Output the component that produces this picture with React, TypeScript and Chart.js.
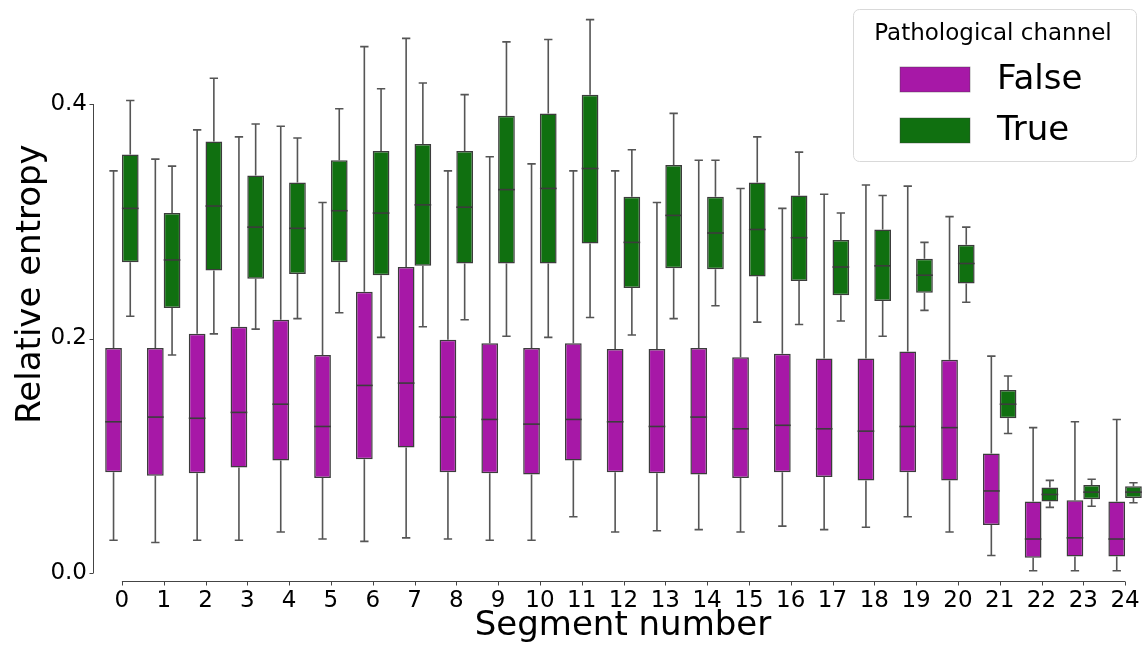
import React, { useEffect, useRef } from "react";
import { Chart, registerables } from "chart.js";

Chart.register(...registerables);

// ---------- data ----------
const segments = ["0","1","2","3","4","5","6","7","8","9","10","11","12","13","14","15","16","17","18","19","20","21","22","23","24"];
const seriesLabels = ["False", "True"];
const yTicks = [0, 0.2, 0.4];

const falseMin = [0.028,0.026,0.028,0.028,0.035,0.029,0.027,0.030,0.029,0.028,0.028,0.048,0.035,0.036,0.037,0.035,0.040,0.037,0.039,0.048,0.035,0.015,0.002,0.002,0.002];
const falseQ1 = [0.086,0.083,0.085,0.090,0.096,0.081,0.097,0.107,0.086,0.085,0.084,0.096,0.086,0.085,0.084,0.081,0.086,0.082,0.079,0.086,0.079,0.041,0.013,0.014,0.014];
const falseMedian = [0.129,0.133,0.132,0.137,0.144,0.125,0.160,0.162,0.133,0.131,0.127,0.131,0.129,0.125,0.133,0.123,0.126,0.123,0.121,0.125,0.124,0.070,0.029,0.030,0.029];
const falseQ3 = [0.192,0.192,0.204,0.210,0.216,0.186,0.240,0.261,0.199,0.196,0.192,0.196,0.191,0.191,0.192,0.184,0.187,0.183,0.183,0.189,0.182,0.102,0.061,0.062,0.061];
const falseMax = [0.343,0.353,0.378,0.372,0.381,0.316,0.449,0.456,0.343,0.355,0.349,0.343,0.343,0.316,0.352,0.328,0.311,0.323,0.331,0.330,0.304,0.185,0.124,0.129,0.131];

const trueMin = [0.219,0.186,0.204,0.208,0.217,0.222,0.201,0.210,0.216,0.202,0.201,0.218,0.203,0.217,0.228,0.214,0.212,0.215,0.202,0.224,0.231,0.119,0.056,0.057,0.060];
const trueQ1 = [0.265,0.226,0.258,0.251,0.255,0.265,0.254,0.262,0.264,0.264,0.264,0.281,0.243,0.260,0.259,0.253,0.249,0.237,0.232,0.239,0.247,0.132,0.061,0.063,0.064];
const trueMedian = [0.311,0.267,0.313,0.295,0.294,0.309,0.307,0.314,0.312,0.327,0.328,0.345,0.282,0.305,0.290,0.293,0.286,0.261,0.262,0.254,0.264,0.144,0.067,0.069,0.069];
const trueQ3 = [0.357,0.307,0.368,0.339,0.333,0.352,0.360,0.366,0.360,0.390,0.392,0.408,0.321,0.348,0.321,0.333,0.322,0.284,0.293,0.268,0.280,0.156,0.073,0.075,0.074];
const trueMax = [0.403,0.347,0.422,0.383,0.371,0.396,0.413,0.418,0.408,0.453,0.455,0.472,0.361,0.392,0.352,0.372,0.359,0.307,0.322,0.282,0.295,0.168,0.079,0.080,0.077];

// ---------- styles ----------
const FONT = '"DejaVu Sans", "Liberation Sans", sans-serif';
const colors = ["#A718A7", "#107010"];
const edgeColor = "#3c3c3c";
const whiskerColor = "#555555";
const W = 1147;
const H = 648;

const stats = [
  { min: falseMin, q1: falseQ1, med: falseMedian, q3: falseQ3, max: falseMax },
  { min: trueMin, q1: trueQ1, med: trueMedian, q3: trueQ3, max: trueMax },
];

const boxPlugin = {
  id: "boxWhiskers",
  beforeDatasetsDraw(chart: any) {
    const ctx = chart.ctx;
    const ys = chart.scales.y;
    ctx.save();
    ctx.strokeStyle = whiskerColor;
    ctx.lineWidth = 1.6;
    chart.data.datasets.forEach((_ds: any, di: number) => {
      const meta = chart.getDatasetMeta(di);
      const st = stats[di];
      meta.data.forEach((bar: any, i: number) => {
        const { x, width } = bar.getProps(["x", "width"], true);
        const half = width / 4;
        const pMax = ys.getPixelForValue(st.max[i]);
        const pMin = ys.getPixelForValue(st.min[i]);
        const pQ3 = ys.getPixelForValue(st.q3[i]);
        const pQ1 = ys.getPixelForValue(st.q1[i]);
        ctx.beginPath();
        ctx.moveTo(x, pQ3);
        ctx.lineTo(x, pMax);
        ctx.moveTo(x - half, pMax);
        ctx.lineTo(x + half, pMax);
        ctx.moveTo(x, pQ1);
        ctx.lineTo(x, pMin);
        ctx.moveTo(x - half, pMin);
        ctx.lineTo(x + half, pMin);
        ctx.stroke();
      });
    });
    ctx.restore();
  },
  afterDatasetsDraw(chart: any) {
    const ctx = chart.ctx;
    const ys = chart.scales.y;
    ctx.save();
    ctx.strokeStyle = edgeColor;
    ctx.lineWidth = 1.6;
    chart.data.datasets.forEach((_ds: any, di: number) => {
      const meta = chart.getDatasetMeta(di);
      const st = stats[di];
      meta.data.forEach((bar: any, i: number) => {
        const { x, width } = bar.getProps(["x", "width"], true);
        const pMed = ys.getPixelForValue(st.med[i]);
        ctx.beginPath();
        ctx.moveTo(x - width / 2, pMed);
        ctx.lineTo(x + width / 2, pMed);
        ctx.stroke();
      });
    });
    ctx.restore();
  },
};

const decorPlugin = {
  id: "decor",
  afterDraw(chart: any) {
    const ctx = chart.ctx;
    const xs = chart.scales.x;
    const ys = chart.scales.y;
    const area = chart.chartArea;
    ctx.save();
    // spines (offset and trimmed)
    ctx.strokeStyle = "#444444";
    ctx.lineWidth = 1;
    const sx = Math.round(area.left - 8) + 0.5;
    const y0 = ys.getPixelForValue(yTicks[0]);
    const y1 = ys.getPixelForValue(yTicks[yTicks.length - 1]);
    ctx.beginPath();
    ctx.moveTo(sx, y0);
    ctx.lineTo(sx, y1);
    yTicks.forEach((v) => {
      const p = Math.round(ys.getPixelForValue(v)) + 0.5;
      ctx.moveTo(sx, p);
      ctx.lineTo(sx - 4, p);
    });
    const sy = Math.round(area.bottom) + 0.5;
    const x0 = xs.getPixelForValue(0);
    const x1 = xs.getPixelForValue(segments.length - 1);
    ctx.moveTo(x0, sy);
    ctx.lineTo(x1, sy);
    segments.forEach((_s, i) => {
      const p = Math.round(xs.getPixelForValue(i)) + 0.5;
      ctx.moveTo(p, sy);
      ctx.lineTo(p, sy + 4);
    });
    ctx.stroke();

    // axis titles
    ctx.fillStyle = "#000";
    ctx.font = `34px ${FONT}`;
    ctx.textAlign = "center";
    ctx.textBaseline = "middle";
    ctx.fillText("Segment number", 623, 626);
    ctx.save();
    ctx.translate(31, 284);
    ctx.rotate(-Math.PI / 2);
    ctx.fillText("Relative entropy", 0, 0);
    ctx.restore();

    // legend
    const lx = 853.5, ly = 9.5, lw = 283, lh = 152;
    ctx.beginPath();
    ctx.roundRect(lx, ly, lw, lh, 6);
    ctx.fillStyle = "rgba(255,255,255,0.85)";
    ctx.fill();
    ctx.strokeStyle = "#d9d9d9";
    ctx.lineWidth = 1;
    ctx.stroke();
    ctx.fillStyle = "#000";
    ctx.font = `23px ${FONT}`;
    ctx.textAlign = "center";
    ctx.textBaseline = "middle";
    ctx.fillText("Pathological channel", 993, 34);
    chart.data.datasets.forEach((ds: any, di: number) => {
      const top = di === 0 ? 67 : 118;
      ctx.fillStyle = colors[di];
      ctx.fillRect(900, top, 70, 25);
      ctx.strokeStyle = "rgba(60,60,60,0.5)";
      ctx.lineWidth = 0.8;
      ctx.strokeRect(900, top, 70, 25);
      ctx.fillStyle = "#000";
      ctx.font = `34px ${FONT}`;
      ctx.textAlign = "left";
      ctx.textBaseline = "middle";
      ctx.fillText(ds.label, 997, top + 13);
    });
    ctx.restore();
  },
};

export default function App() {
  const canvasRef = useRef<HTMLCanvasElement | null>(null);

  useEffect(() => {
    const canvas = canvasRef.current;
    if (!canvas) return;
    Chart.defaults.font.family = FONT;
    const chart = new Chart(canvas, {
      type: "bar",
      data: {
        labels: segments,
        datasets: [
          {
            label: seriesLabels[0],
            data: falseQ1.map((q, i) => [q, falseQ3[i]]) as any,
            backgroundColor: colors[0],
            borderColor: edgeColor,
            borderWidth: 1.5,
            borderSkipped: false,
          },
          {
            label: seriesLabels[1],
            data: trueQ1.map((q, i) => [q, trueQ3[i]]) as any,
            backgroundColor: colors[1],
            borderColor: edgeColor,
            borderWidth: 1.5,
            borderSkipped: false,
          },
        ],
      },
      options: {
        animation: false,
        responsive: false,
        devicePixelRatio: 1,
        layout: { padding: { top: 10, right: 1, left: 0, bottom: 0 } },
        datasets: { bar: { categoryPercentage: 0.8, barPercentage: 1.0 } },
        plugins: {
          legend: { display: false },
          tooltip: { enabled: false },
        },
        scales: {
          x: {
            type: "category",
            offset: true,
            grid: { display: false, drawTicks: false },
            border: { display: false },
            ticks: {
              autoSkip: false,
              maxRotation: 0,
              minRotation: 0,
              padding: 6,
              color: "#000",
              font: { size: 23, family: FONT },
            },
            afterFit: (scale: any) => {
              scale.height = 67;
              scale.paddingLeft = 0;
              scale.paddingRight = 0;
            },
          },
          y: {
            type: "linear",
            min: -0.0068,
            max: 0.4802,
            grid: { display: false, drawTicks: false },
            border: { display: false },
            afterBuildTicks: (scale: any) => {
              scale.ticks = yTicks.map((v) => ({ value: v }));
            },
            ticks: {
              padding: 14,
              color: "#000",
              font: { size: 23, family: FONT },
              callback: (v: any) => Number(v).toFixed(1),
            },
            afterFit: (scale: any) => {
              scale.width = 101;
              scale.paddingTop = 0;
              scale.paddingBottom = 0;
            },
          },
        },
      },
      plugins: [boxPlugin, decorPlugin],
    });
    return () => chart.destroy();
  }, []);

  return (
    <div style={{ position: "fixed", left: 0, top: 0, width: W, height: H, background: "#fff" }}>
      <canvas ref={canvasRef} width={W} height={H} style={{ display: "block", width: W, height: H }} />
    </div>
  );
}
